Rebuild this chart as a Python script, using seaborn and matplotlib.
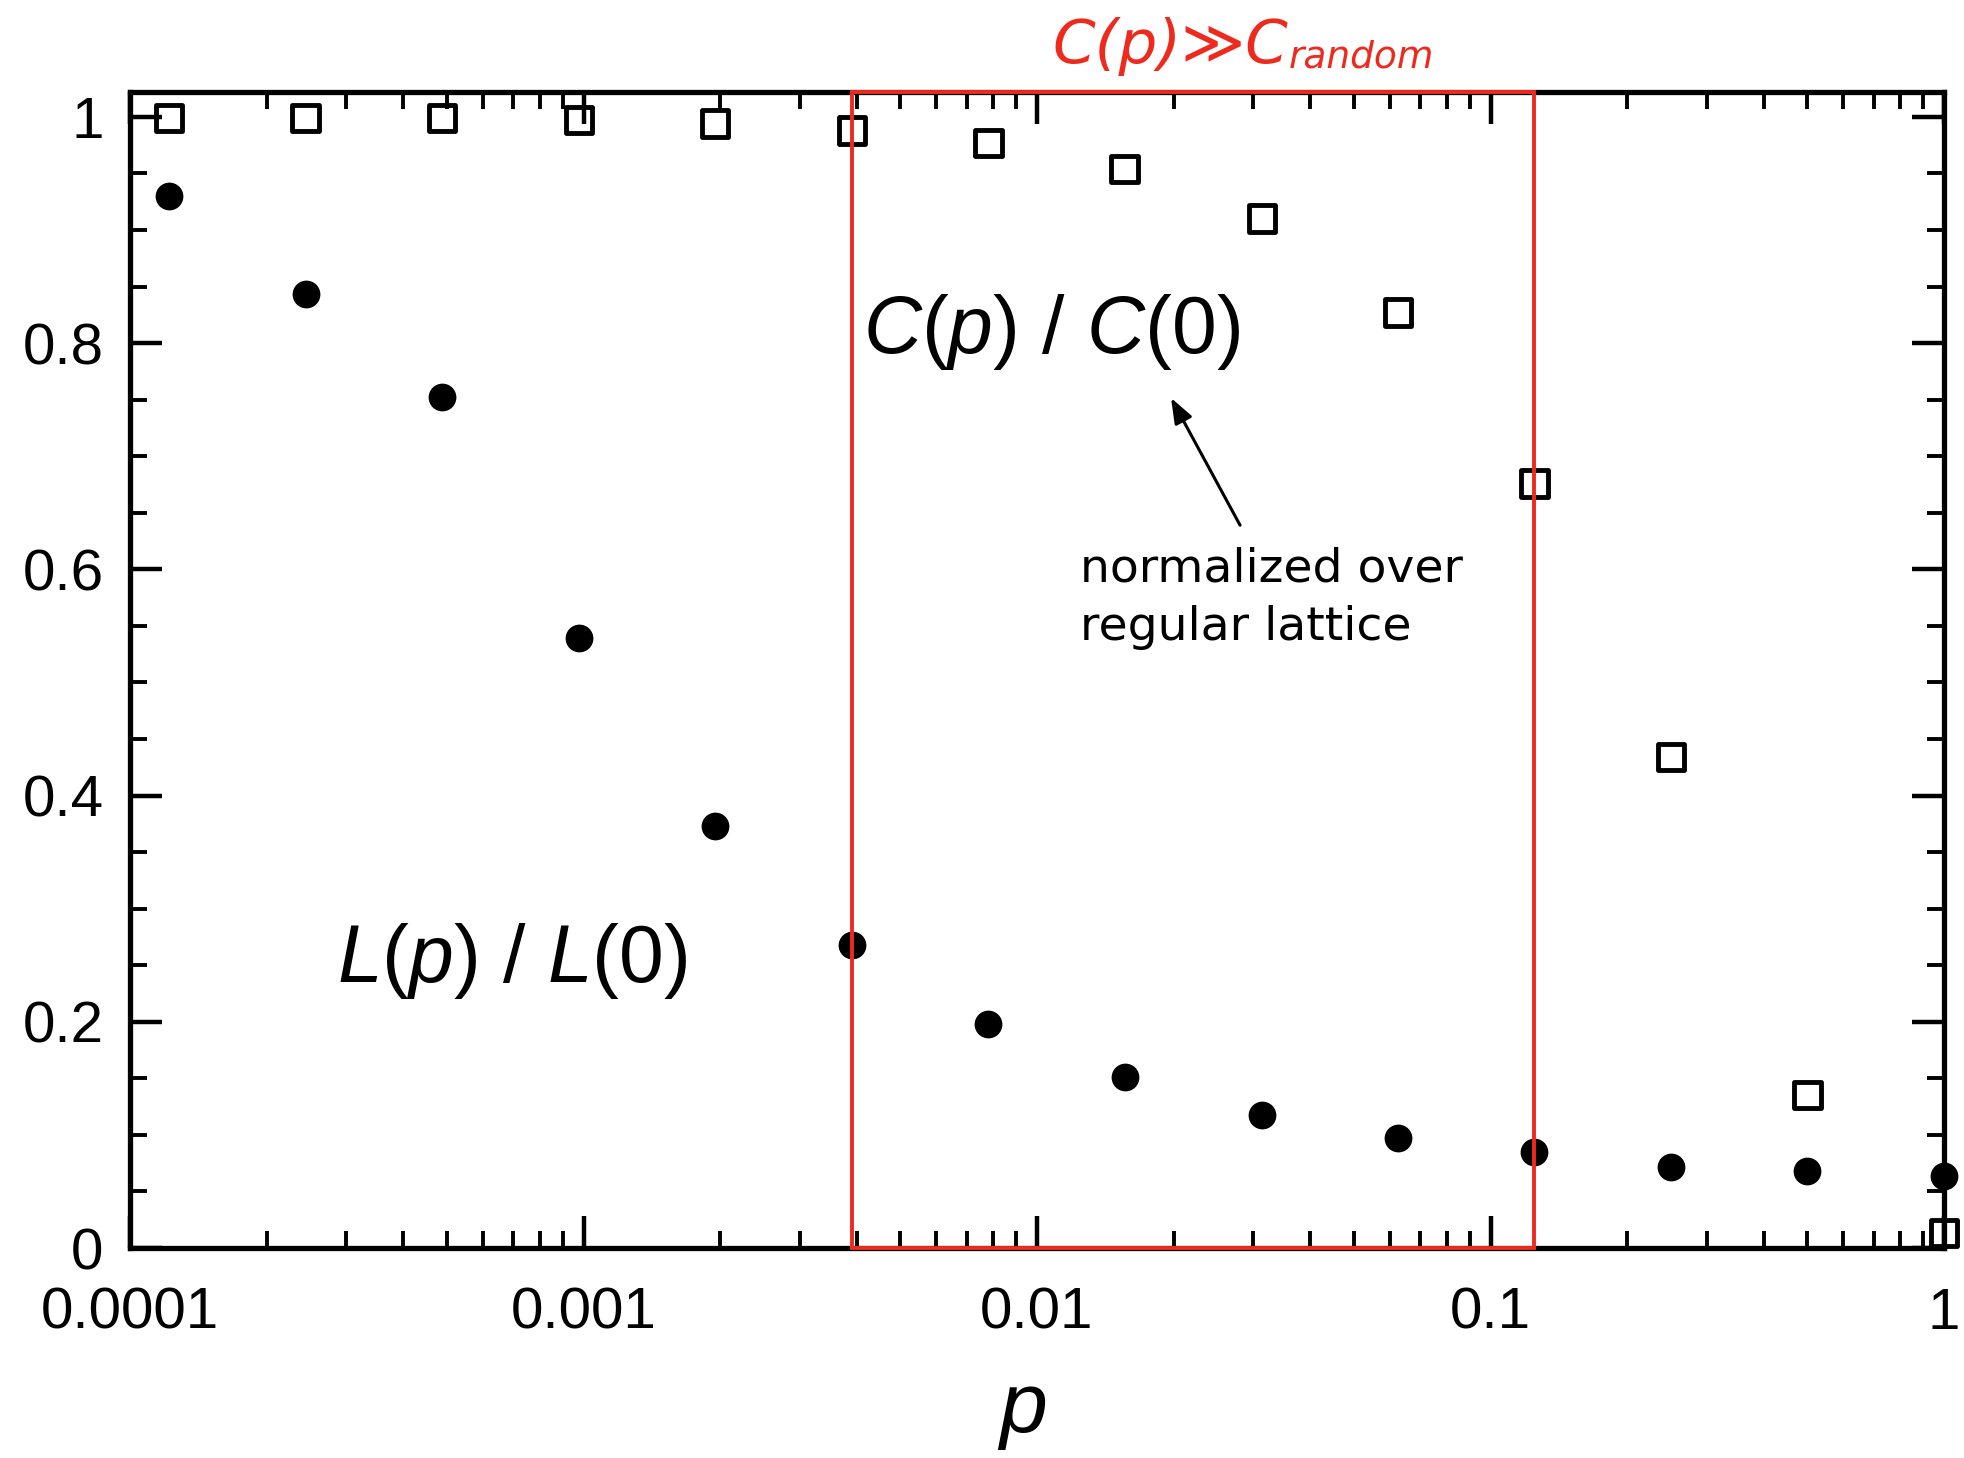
import numpy as np
import pandas as pd
import matplotlib
matplotlib.use("Agg")
import matplotlib.pyplot as plt
import seaborn as sns
from matplotlib.patches import Rectangle
from matplotlib.ticker import LogLocator, MultipleLocator, NullFormatter

# ---- data ----
p_values = [0.000122, 0.000244, 0.000488, 0.000977, 0.00195, 0.00391, 0.00781,
            0.0156, 0.0313, 0.0625, 0.125, 0.25, 0.5, 1.0]
C_ratio = [0.999, 0.999, 0.999, 0.997, 0.994, 0.988, 0.977,
           0.954, 0.910, 0.827, 0.676, 0.434, 0.135, 0.013]
L_ratio = [0.930, 0.843, 0.752, 0.539, 0.373, 0.268, 0.198,
           0.151, 0.118, 0.097, 0.085, 0.072, 0.068, 0.064]
highlight_range = [0.0039, 0.125]
x_ticks = [0.0001, 0.001, 0.01, 0.1, 1]
x_ticklabels = ["0.0001", "0.001", "0.01", "0.1", "1"]
y_ticks = [0, 0.2, 0.4, 0.6, 0.8, 1.0]
y_ticklabels = ["0", "0.2", "0.4", "0.6", "0.8", "1"]

RED = "#ee2a1e"

sns.set_theme(style="ticks")
plt.rcParams.update({
    "font.family": ["Liberation Sans", "DejaVu Sans"],
    "mathtext.fontset": "custom",
    "mathtext.rm": "Liberation Sans",
    "mathtext.it": "Liberation Sans:italic",
    "mathtext.bf": "Liberation Sans:bold",
    "axes.linewidth": 3.8,
    "axes.edgecolor": "black",
    "xtick.color": "black",
    "ytick.color": "black",
    "xtick.labelcolor": "black",
    "ytick.labelcolor": "black",
    "text.color": "black",
    "axes.labelcolor": "black",
})

W, H = 1965, 1458
fig = plt.figure(figsize=(W / 100, H / 100), dpi=100)
ax = fig.add_axes([130 / W, 1 - 1248 / H, (1944 - 130) / W, (1248 - 92) / H])

df = pd.DataFrame({"p": p_values, "C": C_ratio, "L": L_ratio})

sns.scatterplot(data=df, x="p", y="C", marker="s", s=19 ** 2,
                facecolor="none", edgecolor="black", linewidth=3.5,
                ax=ax, clip_on=False, zorder=5)
sns.scatterplot(data=df, x="p", y="L", marker="o", s=20 ** 2,
                color="black", linewidth=0, ax=ax, clip_on=False, zorder=5)

ax.set_xscale("log")
ax.set_xlim(1e-4, 1)
ax.set_ylim(0, 1.022)

ax.set_xticks(x_ticks, labels=x_ticklabels)
ax.xaxis.set_minor_locator(LogLocator(base=10, subs=np.arange(2, 10), numticks=50))
ax.xaxis.set_minor_formatter(NullFormatter())
ax.set_yticks(y_ticks, labels=y_ticklabels)
ax.yaxis.set_minor_locator(MultipleLocator(0.05))

ax.tick_params(which="both", direction="in", top=True, right=True)
ax.tick_params(which="major", length=23, width=3.2, labelsize=42)
ax.tick_params(which="minor", length=12, width=2.8)
ax.tick_params(axis="x", which="major", pad=28)
ax.tick_params(axis="y", which="major", pad=19)

ax.set_xlabel(r"$p$", fontsize=62)
ax.xaxis.set_label_coords(0.4917, -0.107)
ax.set_ylabel("")

# red highlight box
rect = Rectangle((highlight_range[0], 0), highlight_range[1] - highlight_range[0], 1,
                 transform=ax.get_xaxis_transform(), fill=False, edgecolor=RED,
                 linewidth=2.8, clip_on=False, zorder=6)
ax.add_patch(rect)

# curve labels
ax.text(0.004133, 0.791, r"$C(p)\ /\ C(0)$", fontsize=58, ha="left", va="baseline")
ax.text(2.861e-4, 0.235, r"$L(p)\ /\ L(0)$", fontsize=58, ha="left", va="baseline")

# annotation
ax.annotate("", xy=(0.01975, 0.7515), xytext=(0.02804, 0.639),
            arrowprops=dict(arrowstyle="-|>,head_length=0.45,head_width=0.17",
                            color="black", lw=2.2, mutation_scale=34,
                            shrinkA=0, shrinkB=0))
ax.text(0.01245, 0.589, "normalized over", fontsize=34, family=["DejaVu Sans"],
        ha="left", va="baseline")
ax.text(0.01245, 0.5376, "regular lattice", fontsize=34, family=["DejaVu Sans"],
        ha="left", va="baseline")

# red title
t = fig.text(1052 / W, 1 - 63 / H, "C(p)\u226bC", fontsize=44, color=RED,
             family=["DejaVu Sans"], style="italic", ha="left", va="baseline")
ax.annotate("random", xy=(1.0, 0.0), xycoords=t, xytext=(1, 0),
            textcoords="offset points", fontsize=27, color=RED,
            family=["DejaVu Sans"], style="italic", ha="left", va="bottom",
            annotation_clip=False)

fig.savefig("out.png", dpi=100)
